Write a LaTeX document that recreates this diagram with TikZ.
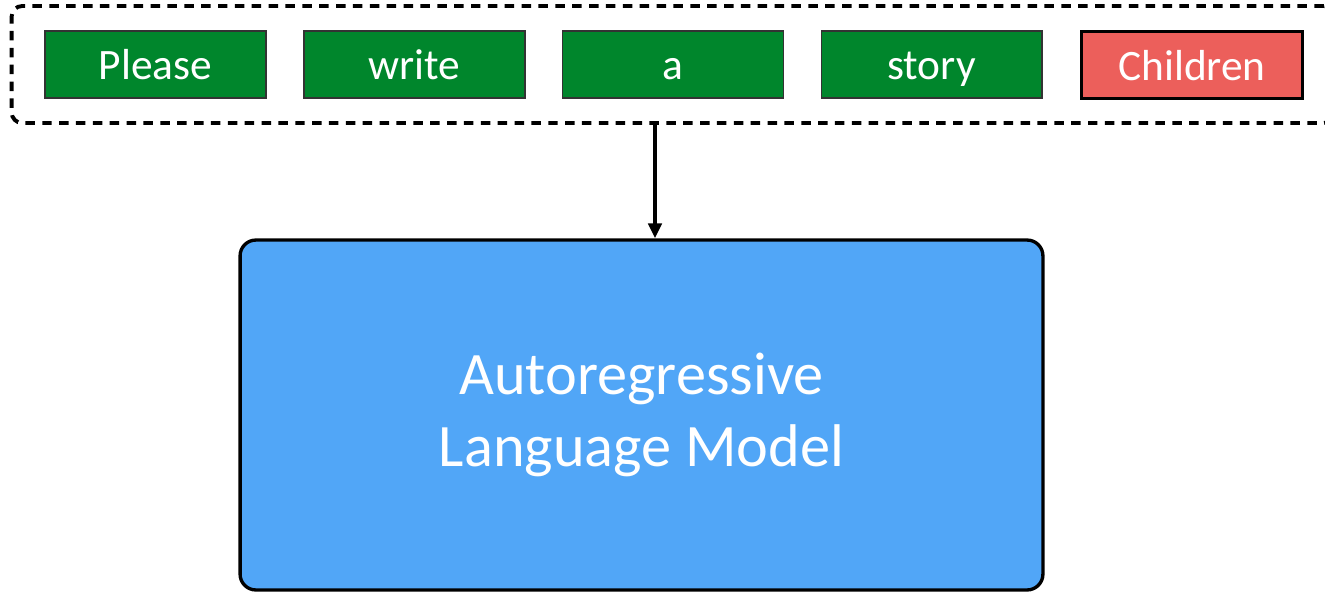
\documentclass[tikz,border=0pt]{standalone}
\usepackage{fontspec}
\setmainfont{Carlito}
\usepackage{tikz}
\usetikzlibrary{arrows.meta}
\usepackage{xcolor}
\definecolor{tokgreen}{RGB}{0,134,44}
\definecolor{tokred}{RGB}{236,95,91}
\definecolor{lmblue}{RGB}{81,166,247}

\begin{document}
\begin{tikzpicture}[x=0.02cm,y=-0.02cm,>={Triangle[length=8.5pt,width=7.5pt]},
  every node/.style={align=center,inner sep=0pt,text=white},
  token/.style={draw=black!80,line width=0.6pt,fill=tokgreen,minimum width=4.42cm,minimum height=1.34cm,text height=0.8cm,text depth=0.18cm,font=\fontsize{24.7}{30}\selectfont},
  target/.style={token,fill=tokred,draw=black,line width=1.8pt}]
\useasboundingbox (0,0) rectangle (1325,592);
\node[draw,dash pattern=on 5.4pt off 4.2pt,line width=2.2pt,rounded corners=6pt,minimum width=26.46cm,minimum height=2.34cm](prompt) at (673,64.5){};
\node[token](w1) at (155.5,64.5){Please};
\node[token](w2) at (414.5,64.5){write};
\node[token](w3) at (673,64.5){a};
\node[token](w4) at (931.5,64.5){story};
\node[target](w5) at (1192,65){Children};
\node[draw,line width=1.9pt,fill=lmblue,rounded corners=9pt,minimum width=16.06cm,minimum height=7cm,font=\fontsize{34.3}{41}\selectfont](lm) at (641.5,415){Autoregressive\\Language Model};
\coordinate(x) at (655,0);
\draw[->,line width=2.2pt](prompt.south -| x)--(lm.north -| x);
\end{tikzpicture}
\end{document}
